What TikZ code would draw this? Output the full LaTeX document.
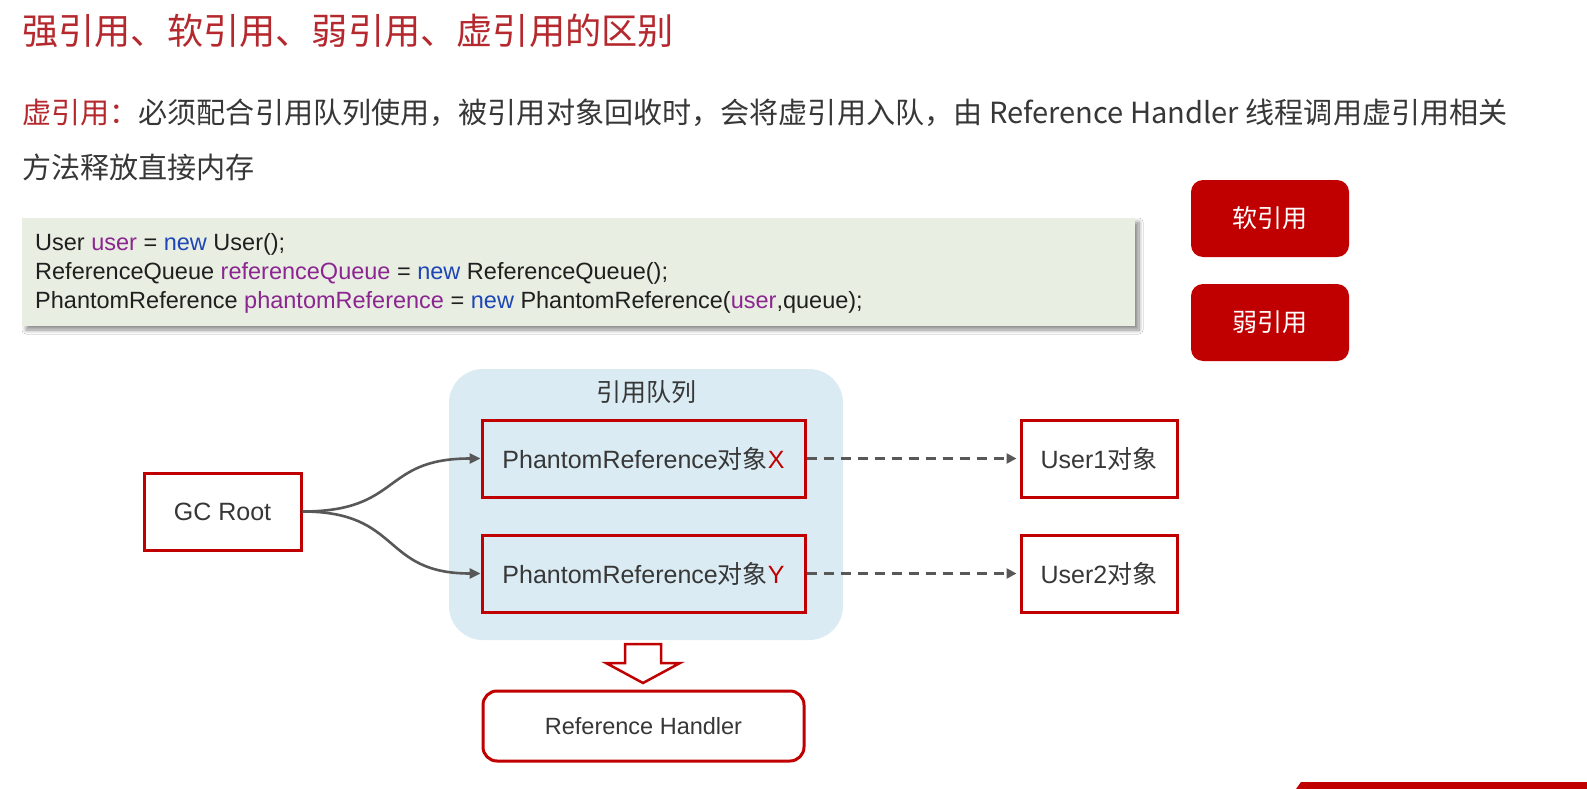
\documentclass[tikz,border=0pt]{standalone}
\usepackage{fontspec}
\setmainfont{Liberation Sans}
\newfontfamily\cjk{Noto Sans CJK SC}
\usetikzlibrary{arrows.meta,shadows.blur}

\definecolor{titlered}{RGB}{181,41,46}
\definecolor{boxred}{RGB}{192,0,0}
\definecolor{txtgray}{RGB}{55,55,55}
\definecolor{codebg}{RGB}{233,238,226}
\definecolor{queuebg}{RGB}{218,235,243}
\definecolor{codepurple}{RGB}{139,38,145}
\definecolor{codeblue}{RGB}{30,70,180}
\definecolor{linkgray}{RGB}{88,88,88}

\newcommand{\setfs}[1]{\fontsize{#1}{#1}\selectfont}

\tikzset{
  redbox/.style={draw=boxred, line width=3pt, inner sep=0pt,
    text=txtgray, font=\setfs{25}, minimum height=77pt},
  btn/.style={fill=boxred, rounded corners=12pt, inner sep=0pt,
    text=white, font=\cjk\setfs{25}, minimum width=158pt, minimum height=77pt},
  codeline/.style={anchor=west, inner sep=0pt, text=black!88, font=\setfs{23.5}},
  conn/.style={draw=linkgray, line width=2.6pt, -{Triangle[length=11pt,width=10pt]}},
  dconn/.style={draw=linkgray, line width=2.8pt, dash pattern=on 10pt off 7pt,
    -{Triangle[length=10pt,width=10pt]}, shorten >=3pt}
}

\begin{document}
\begin{tikzpicture}[x=1pt, y=-1pt]
\useasboundingbox[fill=white] (0,0) rectangle (1587,789);

% heading and explanation
\node[anchor=west, inner sep=0pt, text=titlered, font=\cjk\setfs{36.2}] (title) at (22,31)
  {强引用、软引用、弱引用、虚引用的区别};
\node[anchor=west, inner sep=0pt, text=txtgray, font=\cjk\setfs{29.1}] (desc1) at (22,113)
  {\textcolor{titlered}{虚引用：}必须配合引用队列使用，被引用对象回收时，会将虚引用入队，由 Reference Handler 线程调用虚引用相关};
\node[anchor=west, inner sep=0pt, text=txtgray, font=\cjk\setfs{29.1}] (desc2) at (22,167)
  {方法释放直接内存};

% code sample
\fill[codebg, blur shadow={shadow xshift=4pt, shadow yshift=-4pt,
  shadow blur radius=4pt, shadow blur steps=10, shadow opacity=45}]
  (22,218) rectangle (1135,326);
\node[codeline] (c1) at (35,244)
  {User \textcolor{codepurple}{user} = \textcolor{codeblue}{new} User();};
\node[codeline] (c2) at (35,273)
  {ReferenceQueue \textcolor{codepurple}{referenceQueue} = \textcolor{codeblue}{new} ReferenceQueue();};
\node[codeline] (c3) at (35,302)
  {PhantomReference \textcolor{codepurple}{phantomReference} = \textcolor{codeblue}{new} PhantomReference(\textcolor{codepurple}{user},queue);};

% buttons
\node[btn] (soft) at (1270,218.5) {软引用};
\node[btn] (weak) at (1270,322.5) {弱引用};

% reference queue area
\path[fill=queuebg, rounded corners=34pt] (449,369) rectangle (843,640);
\node[inner sep=0pt, text=txtgray, font=\cjk\setfs{25}] (qlabel) at (646,392) {引用队列};

\node[redbox, minimum width=323pt] (px) at (643.5,458.5)
  {PhantomReference{\cjk 对象}\textcolor{boxred}{X}};
\node[redbox, minimum width=323pt] (py) at (643.5,573.5)
  {PhantomReference{\cjk 对象}\textcolor{boxred}{Y}};

\node[redbox, minimum width=157pt] (gc) at (222.5,511.5) {GC Root};
\node[redbox, minimum width=156pt] (u1) at (1099,458.5) {User1{\cjk 对象}};
\node[redbox, minimum width=156pt] (u2) at (1099,573.5) {User2{\cjk 对象}};

\node[redbox, rounded corners=14pt, minimum width=321pt, minimum height=70pt,
  font=\setfs{23.5}] (rh) at (643.5,726) {Reference Handler};

% connectors
\draw[conn] (gc.east) .. controls +(100,0) and +(-100,0) .. (px.west);
\draw[conn] (gc.east) .. controls +(100,0) and +(-100,0) .. (py.west);
\draw[dconn] (px.east) -- (u1.west);
\draw[dconn] (py.east) -- (u2.west);

% hollow block arrow from queue to handler
\draw[boxred, line width=2.5pt, fill=white, line join=miter]
  (625,644) -- (661,644) -- (661,663) -- (680,663) -- (643,683)
  -- (606,663) -- (625,663) -- cycle;

% corner band
\fill[boxred] (1296,789) -- (1301,782) -- (1587,782) -- (1587,789) -- cycle;
\end{tikzpicture}
\end{document}
